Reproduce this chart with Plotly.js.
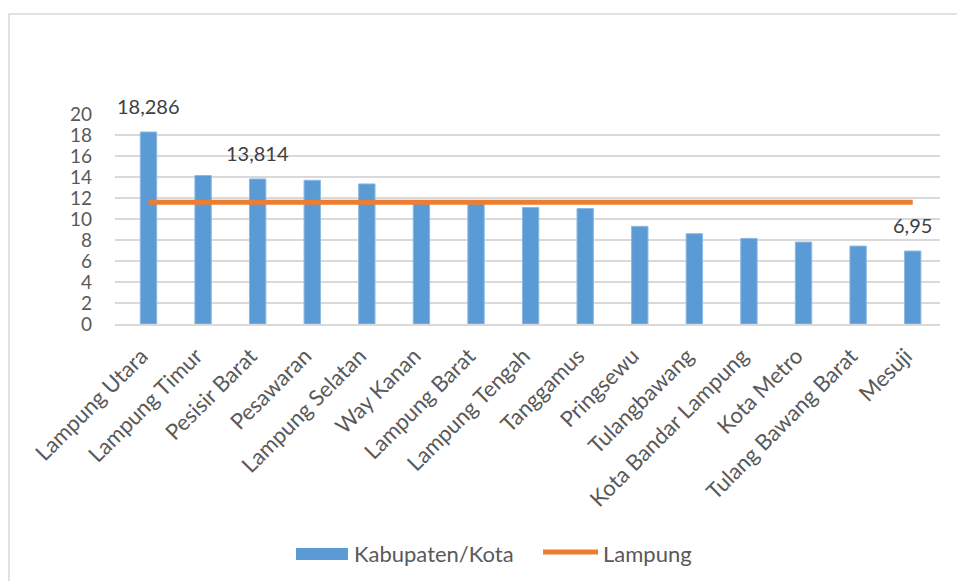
<!DOCTYPE html>
<html>
<head>
<meta charset="utf-8">
<script src="https://cdn.plot.ly/plotly-3.0.1.min.js"></script>
<style>
html,body{margin:0;padding:0;background:#fff;}
#chart{width:957px;height:581px;}
</style>
</head>
<body>
<div id="chart"></div>
<script>
const categories = ["Lampung Utara","Lampung Timur","Pesisir Barat","Pesawaran","Lampung Selatan","Way Kanan","Lampung Barat","Lampung Tengah","Tanggamus","Pringsewu","Tulangbawang","Kota Bandar Lampung","Kota Metro","Tulang Bawang Barat","Mesuji"];
const kabupatenValues = [18.286, 14.14, 13.814, 13.69, 13.34, 11.5, 11.45, 11.1, 11.0, 9.3, 8.6, 8.15, 7.8, 7.42, 6.95];
const lampungValues = [11.6, 11.6, 11.6, 11.6, 11.6, 11.6, 11.6, 11.6, 11.6, 11.6, 11.6, 11.6, 11.6, 11.6, 11.6];
const dataLabels = ["18,286", "", "13,814", "", "", "", "", "", "", "", "", "", "", "", "6,95"];
const yTickValues = [0, 2, 4, 6, 8, 10, 12, 14, 16, 18, 20];
const seriesNames = ["Kabupaten/Kota", "Lampung"];

const FONT = "Lato, 'Open Sans', sans-serif";
const TXT = "#595959";

const traces = [
  {
    type: "bar",
    name: seriesNames[0],
    x: categories,
    y: kabupatenValues,
    width: 0.3,
    marker: {color: "#5B9BD5", line: {color: "#8DB8E2", width: 1}},
    hoverinfo: "none",
    showlegend: false
  },
  {
    type: "scatter",
    mode: "lines",
    name: seriesNames[1],
    x: categories,
    y: lampungValues,
    line: {color: "#ED7D31", width: 5},
    hoverinfo: "none",
    showlegend: false
  }
];

const annotations = [];
categories.forEach((c, i) => {
  if (dataLabels[i]) {
    annotations.push({
      x: c, y: kabupatenValues[i], xref: "x", yref: "y",
      text: dataLabels[i], showarrow: false,
      yanchor: "bottom", yshift: 12,
      font: {family: FONT, size: 20, color: "#404040"}
    });
  }
});
// legend texts
annotations.push({xref: "paper", yref: "paper", x: 0.287, y: -1.0905, xanchor: "left", yanchor: "middle",
  text: seriesNames[0], showarrow: false, font: {family: FONT, size: 22, color: TXT}});
annotations.push({xref: "paper", yref: "paper", x: 0.589, y: -1.0905, xanchor: "left", yanchor: "middle",
  text: seriesNames[1], showarrow: false, font: {family: FONT, size: 22, color: TXT}});

const shapes = [
  // outer chart border
  {type: "rect", xref: "paper", yref: "paper", x0: -0.1285, x1: 1.2, y0: -1.6, y1: 1.476,
   line: {color: "#D9D9D9", width: 1.5}, fillcolor: "rgba(0,0,0,0)", layer: "below"},
  // legend symbols
  {type: "rect", xref: "paper", yref: "paper", x0: 0.2194, x1: 0.2824, y0: -1.1238, y1: -1.0667,
   line: {width: 0}, fillcolor: "#5B9BD5"},
  {type: "line", xref: "paper", yref: "paper", x0: 0.5188, x1: 0.5855, y0: -1.0857, y1: -1.0857,
   line: {color: "#ED7D31", width: 5}}
];

const layout = {
  width: 957, height: 581,
  margin: {l: 115, r: 17, t: 114, b: 257, pad: 0},
  paper_bgcolor: "#fff", plot_bgcolor: "#fff",
  showlegend: false,
  hovermode: false,
  font: {family: FONT, color: TXT},
  xaxis: {
    type: "category",
    automargin: false,
    tickangle: -45,
    tickfont: {family: FONT, size: 22, color: TXT},
    showgrid: false,
    showline: true, linecolor: "#D9D9D9", linewidth: 1.5,
    ticks: "", ticklen: 0, ticklabelstandoff: 9, ticklabelshift: -7,
    fixedrange: true
  },
  yaxis: {
    automargin: false,
    range: [0, 20],
    tickvals: yTickValues,
    ticktext: yTickValues.map(String),
    tickfont: {family: FONT, size: 19, color: TXT},
    showgrid: true, gridcolor: "#D9D9D9", gridwidth: 1.5,
    zeroline: false, showline: false,
    ticks: "", ticklabelstandoff: 22,
    fixedrange: true
  },
  annotations: annotations,
  shapes: shapes
};

Plotly.newPlot("chart", traces, layout, {displayModeBar: false, staticPlot: true});
</script>
</body>
</html>
